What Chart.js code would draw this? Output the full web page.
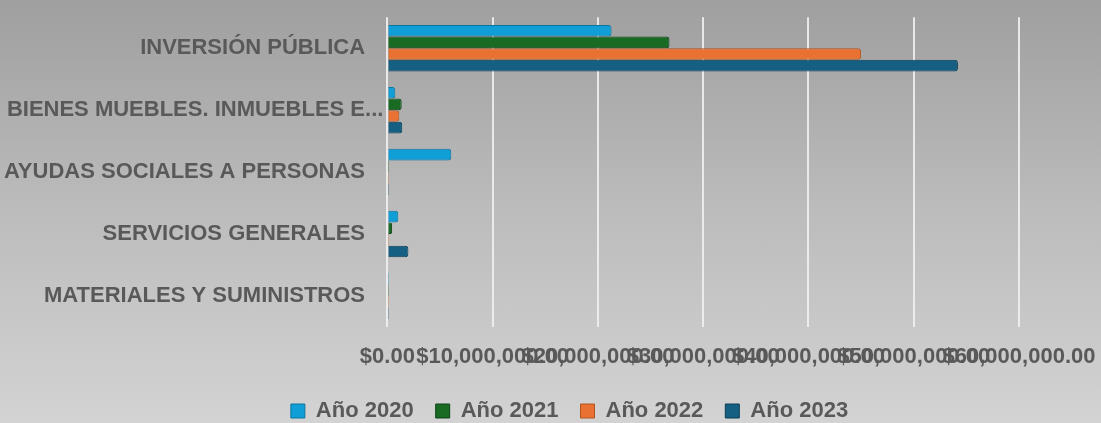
<!DOCTYPE html>
<html>
<head>
<meta charset="utf-8">
<script src="https://cdn.jsdelivr.net/npm/chart.js@4"></script>
<style>
html,body{margin:0;padding:0;}
body{width:1101px;height:423px;overflow:hidden;background:linear-gradient(to bottom,#9f9f9f 0%,#bcbcbc 50%,#d3d3d3 100%);}
#wrap{position:relative;width:1101px;height:423px;}
</style>
</head>
<body>
<div id="wrap"><canvas id="chartGasto"></canvas></div>
<script>
const categorias=['INVERSIÓN PÚBLICA','BIENES MUEBLES. INMUEBLES E...','AYUDAS SOCIALES A PERSONAS','SERVICIOS GENERALES','MATERIALES Y SUMINISTROS'];
const anios=['Año 2020','Año 2021','Año 2022','Año 2023'];
const valores2020=[21300000,760000,6070000,1040000,150000];
const valores2021=[26800000,1360000,150000,450000,150000];
const valores2022=[45000000,1140000,150000,150000,150000];
const valores2023=[54200000,1420000,150000,2000000,150000];
const colores=['#0F9ED5','#196B24','#E97132','#156082'];
const bordes=['#0b76a0','#0f4418','#b0541f','#0c3d54'];
const ticksX=[0,10000000,20000000,30000000,40000000,50000000,60000000];

const series=[valores2020,valores2021,valores2022,valores2023];
const txt='#595959';
Chart.defaults.font.family="'Liberation Sans', Arial, sans-serif";

// la leyenda va algo corrida a la derecha
const moverLeyenda={id:'moverLeyenda',afterLayout(c){c.legend.left+=38;}};

const ctx=document.getElementById('chartGasto').getContext('2d');
new Chart(ctx,{
  type:'bar',
  data:{
    labels:categorias,
    datasets:series.map((d,i)=>({label:anios[i],data:d,backgroundColor:colores[i],borderColor:bordes[i],borderWidth:1,borderRadius:3,categoryPercentage:0.75,barPercentage:1.0}))
  },
  options:{
    indexAxis:'y',
    responsive:true,maintainAspectRatio:false,animation:false,
    layout:{padding:{top:16,left:0,bottom:-9,right:0}},
    plugins:{
      legend:{position:'bottom',labels:{color:txt,font:{size:22,weight:'bold'},boxWidth:14,boxHeight:14,padding:22}},
      tooltip:{enabled:false}
    },
    scales:{
      x:{
        min:0,max:60000000,
        afterBuildTicks:s=>{s.ticks=ticksX.map(v=>({value:v}));},
        afterFit:s=>{s.paddingRight=82;},
        grid:{color:'rgba(240,240,240,0.9)',lineWidth:2,drawTicks:true,tickLength:9,tickColor:'transparent'},
        border:{display:false},
        ticks:{color:txt,font:{size:22,weight:'bold'},padding:7.8,autoSkip:false,maxRotation:0,minRotation:0,
          callback:v=>'$'+Number(v).toLocaleString('en-US',{minimumFractionDigits:2,maximumFractionDigits:2})}
      },
      y:{
        grid:{display:false,drawTicks:false},
        border:{display:false},
        ticks:{color:txt,font:{size:22,weight:'bold'},padding:4,
          // las etiquetas completas quedan un poco antes que la truncada
          callback:function(v){const l=this.getLabelForValue(v);return l.endsWith('...')?l:l+'   ';}}
      }
    }
  },
  plugins:[moverLeyenda]
});
</script>
</body>
</html>
